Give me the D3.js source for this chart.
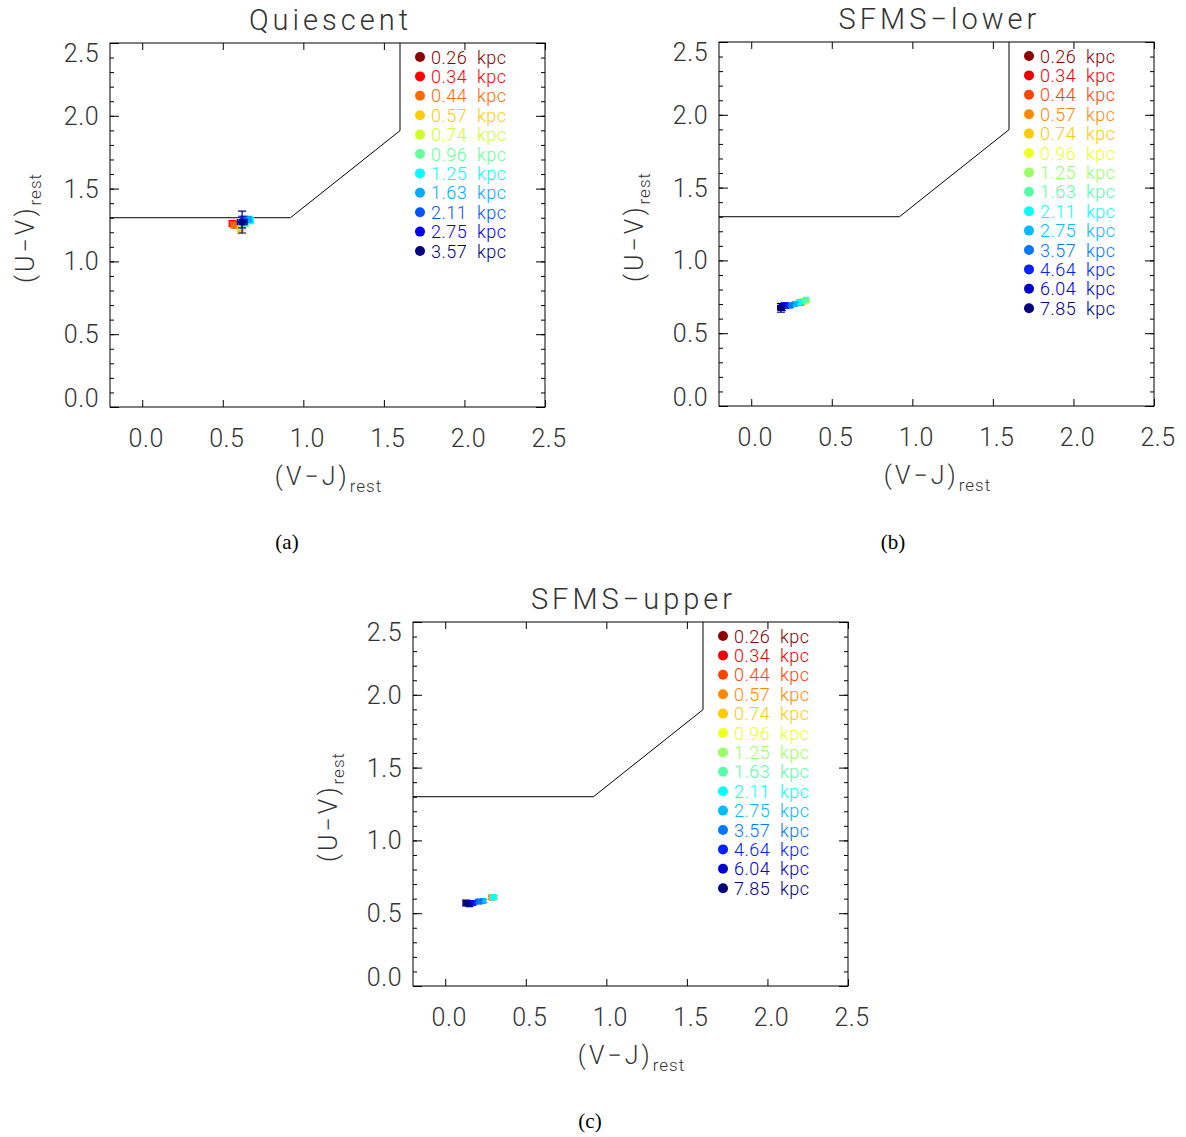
<!DOCTYPE html>
<html>
<head>
<meta charset="utf-8">
<script src="https://cdn.jsdelivr.net/npm/d3@7"></script>
<style>
  body { margin: 0; background: #fff; }
  svg text { font-family: Roboto, "DejaVu Sans", sans-serif; font-weight: 300; }
</style>
</head>
<body>
<div id="canvas"></div>
<script>
"use strict"

/* ---- data ---- */
let panelTitles = ["Quiescent", "SFMS\u2212lower", "SFMS\u2212upper"];
let panelCaptions = ["(a)", "(b)", "(c)"];

// radial bins (kpc) and their colours
let radiiQ = ["0.26", "0.34", "0.44", "0.57", "0.74", "0.96", "1.25", "1.63", "2.11", "2.75", "3.57"];
let colorsQ = ["#8c0000", "#ff0000", "#ff6a00", "#ffcc00", "#ccff22", "#66ff99", "#00ffff", "#00aaff", "#0055ff", "#0000ee", "#000080"];

let radiiSF = ["0.26", "0.34", "0.44", "0.57", "0.74", "0.96", "1.25", "1.63", "2.11", "2.75", "3.57", "4.64", "6.04", "7.85"];
let colorsSF = ["#8c0000", "#ee0000", "#ff4400", "#ff8800", "#ffcc00", "#eeff22", "#99ff66", "#55ffaa", "#00ffff", "#00bbff", "#0077ff", "#0022ff", "#0000cc", "#000080"];

// Quiescent: (V-J, U-V) and errors
let vjQ    = [0.58, 0.56, 0.57, 0.61, 0.62, 0.64, 0.67, 0.66, 0.63, 0.62, 0.62];
let uvQ    = [1.25, 1.26, 1.25, 1.22, 1.24, 1.26, 1.28, 1.29, 1.28, 1.27, 1.27];
let vjErrQ = [0.02, 0.02, 0.02, 0.02, 0.02, 0.02, 0.02, 0.02, 0.02, 0.025, 0.03];
let uvErrQ = [0.02, 0.02, 0.02, 0.03, 0.02, 0.02, 0.02, 0.02, 0.03, 0.04, 0.075];

// SFMS-lower
let vjL    = [0.31, 0.31, 0.30, 0.31, 0.32, 0.34, 0.33, 0.34, 0.30, 0.27, 0.24, 0.21, 0.19, 0.184];
let uvL    = [0.71, 0.715, 0.71, 0.71, 0.72, 0.72, 0.72, 0.73, 0.71, 0.70, 0.69, 0.69, 0.68, 0.674];
let vjErrL = [0.01, 0.01, 0.01, 0.01, 0.01, 0.01, 0.01, 0.01, 0.01, 0.01, 0.01, 0.015, 0.015, 0.02];
let uvErrL = [0.01, 0.01, 0.01, 0.01, 0.01, 0.01, 0.01, 0.01, 0.01, 0.01, 0.015, 0.02, 0.025, 0.03];

// SFMS-upper
let vjU    = [0.29, 0.29, 0.29, 0.29, 0.30, 0.30, 0.30, 0.30, 0.30, 0.236, 0.21, 0.17, 0.15, 0.13];
let uvU    = [0.61, 0.61, 0.61, 0.61, 0.61, 0.61, 0.61, 0.61, 0.61, 0.584, 0.58, 0.57, 0.565, 0.57];
let vjErrU = [0.01, 0.01, 0.01, 0.01, 0.01, 0.01, 0.01, 0.01, 0.01, 0.01, 0.01, 0.015, 0.015, 0.02];
let uvErrU = [0.01, 0.01, 0.01, 0.01, 0.01, 0.01, 0.01, 0.01, 0.01, 0.01, 0.015, 0.015, 0.02, 0.02];

// quiescent selection wedge
let wedgeVJ = [-0.2, 0.92, 1.6, 1.6];
let wedgeUV = [1.3, 1.3, 1.898, 2.5];

let xTicks = [0.0, 0.5, 1.0, 1.5, 2.0, 2.5];
let yTicks = [0.0, 0.5, 1.0, 1.5, 2.0, 2.5];
let yMinorTicks = d3.range(0, 26).map(function (i) { return i / 10; });

/* ---- drawing ---- */
let svgWidth = 1186;
let svgHeight = 1137;
let plotW = 435;
let plotH = 364;

let svg = d3.select("#canvas")
  .append("svg")
  .attr("width", svgWidth)
  .attr("height", svgHeight);

let panels = [
  {left: 110, top: 43, radii: radiiQ, colors: colorsQ, vj: vjQ, uv: uvQ, vjErr: vjErrQ, uvErr: uvErrQ, capX: 287, capY: 549},
  {left: 719, top: 42, radii: radiiSF, colors: colorsSF, vj: vjL, uv: uvL, vjErr: vjErrL, uvErr: uvErrL, capX: 893, capY: 549},
  {left: 413, top: 622, radii: radiiSF, colors: colorsSF, vj: vjU, uv: uvU, vjErr: vjErrU, uvErr: uvErrU, capX: 590, capY: 1128}
];

panels.forEach(function (p, k) {
  let g = svg.append("g").attr("transform", "translate(" + p.left + "," + p.top + ")");

  let x = d3.scaleLinear().domain([-0.2, 2.5]).range([0, plotW]);
  let y = d3.scaleLinear().domain([0, 2.5]).range([plotH, 0]);

  // frame
  g.append("rect")
    .attr("width", plotW).attr("height", plotH)
    .attr("fill", "none").attr("stroke", "#000").attr("stroke-width", 1);

  // ticks pointing inward
  function tickAxis(axis, tv, size, tr) {
    let a = g.append("g").attr("transform", tr)
      .call(axis.tickValues(tv).tickSize(size).tickFormat(""));
    a.select(".domain").remove();
    a.selectAll("line").attr("stroke", "#000");
  }
  tickAxis(d3.axisBottom(x), xTicks, -7, "translate(0," + plotH + ")");
  tickAxis(d3.axisTop(x), xTicks, -7, "translate(0,0)");
  tickAxis(d3.axisLeft(y), yTicks, -9, "translate(0,0)");
  tickAxis(d3.axisLeft(y), yMinorTicks, -4, "translate(0,0)");
  tickAxis(d3.axisRight(y), yTicks, -9, "translate(" + plotW + ",0)");
  tickAxis(d3.axisRight(y), yMinorTicks, -4, "translate(" + plotW + ",0)");

  // tick labels
  g.selectAll(".xl").data(xTicks).enter().append("text")
    .attr("x", function (d) { return x(d) + 4; })
    .attr("y", plotH + 40)
    .attr("text-anchor", "middle")
    .style("font-size", "25px").style("letter-spacing", "0.5px").style("fill", "#333")
    .text(function (d) { return d.toFixed(1); });

  g.selectAll(".yl").data(yTicks).enter().append("text")
    .attr("x", -11)
    .attr("y", function (d) { return Math.min(plotH - 9, Math.max(10, y(d))) + 9; })
    .attr("text-anchor", "end")
    .style("font-size", "25px").style("letter-spacing", "0.5px").style("fill", "#333")
    .text(function (d) { return d.toFixed(1); });

  // axis titles
  let xt = g.append("text")
    .attr("x", plotW / 2 + 1).attr("y", plotH + 78)
    .attr("text-anchor", "middle")
    .style("font-size", "25px").style("letter-spacing", "3px").style("fill", "#333");
  xt.append("tspan").text("(V\u2212J)");
  xt.append("tspan").attr("dy", 7).style("font-size", "17px").style("letter-spacing", "1px").text("rest");

  let yt = g.append("text")
    .attr("transform", "translate(-76," + (plotH / 2 + 3) + ") rotate(-90)")
    .attr("text-anchor", "middle")
    .style("font-size", "25px").style("letter-spacing", "3px").style("fill", "#333");
  yt.append("tspan").text("(U\u2212V)");
  yt.append("tspan").attr("dy", 7).style("font-size", "17px").style("letter-spacing", "1px").text("rest");

  // title
  g.append("text")
    .attr("x", plotW / 2 + 3).attr("y", -13)
    .attr("text-anchor", "middle")
    .style("font-size", "29px").style("letter-spacing", "4px").style("fill", "#333")
    .text(panelTitles[k]);

  // caption
  svg.append("text")
    .attr("x", p.capX).attr("y", p.capY)
    .attr("text-anchor", "middle")
    .style("font-family", "'Liberation Serif', 'DejaVu Serif', serif")
    .style("font-weight", "400")
    .style("font-size", "21px").style("fill", "#000")
    .text(panelCaptions[k]);

  // selection wedge
  let wedge = wedgeVJ.map(function (v, i) { return [v, wedgeUV[i]]; });
  g.append("path")
    .datum(wedge)
    .attr("fill", "none").attr("stroke", "#000").attr("stroke-width", 1)
    .attr("d", d3.line().x(function (d) { return x(d[0]); }).y(function (d) { return y(d[1]); }));

  // legend
  let legend = g.selectAll(".leg").data(p.radii).enter().append("g")
    .attr("transform", function (d, i) { return "translate(310," + (14 + i * 19.4) + ")"; });
  legend.append("circle")
    .attr("r", 5)
    .attr("fill", function (d, i) { return p.colors[i]; });
  legend.append("text")
    .attr("x", 11).attr("y", 6.5)
    .style("font-size", "18px").style("letter-spacing", "0.5px")
    .style("fill", function (d, i) { return p.colors[i]; })
    .text(function (d) { return d + "  kpc"; })
    .attr("xml:space", "preserve");

  // data points with error bars
  let pts = p.vj.map(function (v, i) {
    return {vj: v, uv: p.uv[i], ex: p.vjErr[i], ey: p.uvErr[i], c: p.colors[i]};
  });
  let pg = g.selectAll(".pt").data(pts).enter().append("g");
  pg.append("path")
    .attr("fill", "none")
    .attr("stroke", function (d) { return d.c; })
    .attr("stroke-width", 1.2)
    .attr("d", function (d) {
      let cx = x(d.vj), cy = y(d.uv);
      let x0 = x(d.vj - d.ex), x1 = x(d.vj + d.ex);
      let y0 = y(d.uv - d.ey), y1 = y(d.uv + d.ey);
      return "M" + x0 + "," + cy + "H" + x1 +
        "M" + x0 + "," + (cy - 3) + "V" + (cy + 3) +
        "M" + x1 + "," + (cy - 3) + "V" + (cy + 3) +
        "M" + cx + "," + y0 + "V" + y1 +
        "M" + (cx - 4) + "," + y0 + "H" + (cx + 4) +
        "M" + (cx - 4) + "," + y1 + "H" + (cx + 4);
    });
  pg.append("rect")
    .attr("x", function (d) { return x(d.vj) - 3; })
    .attr("y", function (d) { return y(d.uv) - 3; })
    .attr("width", 6).attr("height", 6)
    .attr("fill", function (d) { return d.c; });
});
</script>
</body>
</html>
